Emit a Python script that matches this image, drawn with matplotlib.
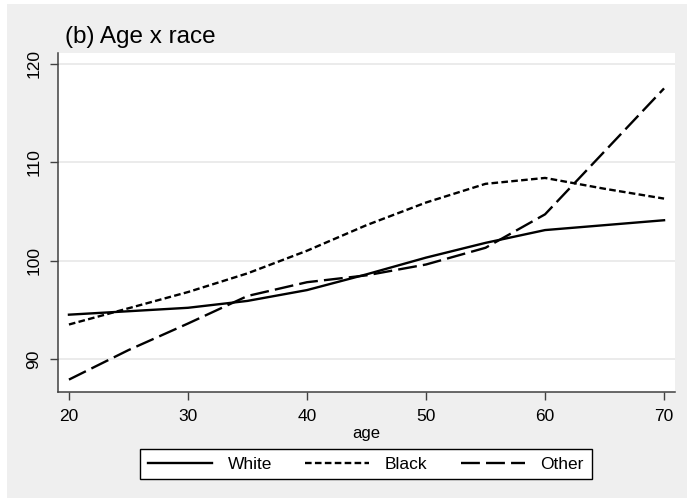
import matplotlib
matplotlib.use("Agg")
import matplotlib.pyplot as plt
from matplotlib.patches import Rectangle

plt.rcParams['font.family'] = ['Liberation Sans', 'DejaVu Sans']

# predicted values by age
age = [20, 25, 30, 35, 40, 45, 50, 55, 60, 65, 70]
white = [94.5, 94.85, 95.2, 95.9, 97.0, 98.6, 100.3, 101.8, 103.1, 103.6, 104.1]
black = [93.5, 95.15, 96.8, 98.7, 101.0, 103.6, 105.9, 107.8, 108.4, 107.3, 106.3]
other = [87.9, 90.9, 93.6, 96.4, 97.8, 98.5, 99.6, 101.3, 104.7, 111.1, 117.5]
yticks = [90, 100, 110, 120]
xticks = [20, 30, 40, 50, 60, 70]

W, H = 687, 498
fig = plt.figure(figsize=(W / 100, H / 100), dpi=100)
fig.patch.set_facecolor('white')
# grey graph region, small white margin on left and top
fig.patches.append(Rectangle((7 / W, 0), 1 - 7 / W, 1 - 4 / H, transform=fig.transFigure,
                             facecolor='#efefef', edgecolor='none', zorder=-5))

ax = fig.add_axes([58 / W, 1 - 392 / H, (675 - 58) / W, (392 - 53) / H])
ax.set_facecolor('white')

lw = 1.7
ax.plot(age, white, color='black', lw=lw, ls='-', label='White')
ax.plot(age, black, color='black', lw=lw, ls=(0, (2.8, 1.4)), label='Black')
ax.plot(age, other, color='black', lw=lw, ls=(0, (8, 2.6)), label='Other')

ax.set_xlim(19.08, 70.92)
ax.set_ylim(86.64, 121.1)
ax.set_xticks(xticks)
ax.set_yticks(yticks)
ax.grid(axis='y', color='#e8e8e8', lw=1.2)
ax.set_axisbelow(True)

for s in ['top', 'right']:
    ax.spines[s].set_visible(False)
for s in ['left', 'bottom']:
    ax.spines[s].set_color('#404040')
    ax.spines[s].set_linewidth(1.1)

ax.tick_params(axis='both', direction='out', length=6, width=1, color='#404040',
               labelsize=12.5, pad=6)
for lab in ax.get_yticklabels():
    lab.set_rotation(90)
    lab.set_va('center')

ax.set_xlabel('age', fontsize=12, labelpad=2)

fig.text(65 / W, 1 - 37 / H, '(b) Age x race', fontsize=17.5, va='center', ha='left')

leg = fig.legend(loc='center', bbox_to_anchor=(366 / W, 1 - 464 / H), ncol=3,
                 fontsize=12.5, handlelength=3.7, handletextpad=0.9, columnspacing=1.9,
                 frameon=True, fancybox=False, borderpad=0.45, borderaxespad=0)
leg.get_frame().set_edgecolor('black')
leg.get_frame().set_linewidth(1.0)
leg.get_frame().set_facecolor('white')
leg.get_frame().set_alpha(1)

fig.savefig('out.png', dpi=100)
